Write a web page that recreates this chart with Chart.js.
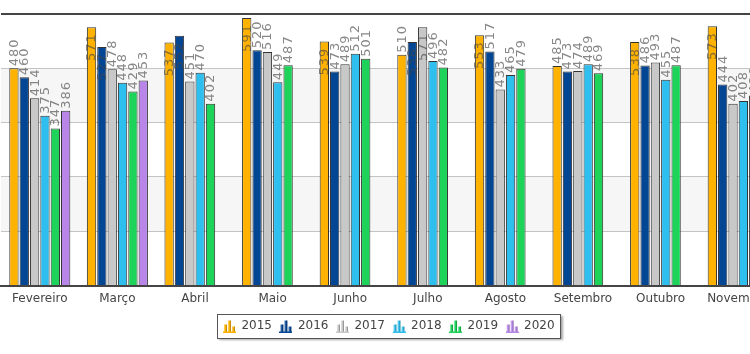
<!DOCTYPE html>
<html>
<head>
<meta charset="utf-8">
<script src="https://cdn.jsdelivr.net/npm/chart.js@4.4.1/dist/chart.umd.min.js"></script>
<style>
  html, body { margin: 0; padding: 0; background: #fff; overflow: hidden; }
  #wrap { width: 777px; height: 354px; }
</style>
</head>
<body>
<div id="wrap"><canvas id="barChart" width="777" height="354"></canvas></div>
<script>
// meses visiveis no grafico
var meses = ['Fevereiro', 'Março', 'Abril', 'Maio', 'Junho', 'Julho', 'Agosto', 'Setembro', 'Outubro', 'Novembro'];
var anos = ['2015', '2016', '2017', '2018', '2019', '2020'];

var v2015 = [480, 571, 537, 591, 539, 510, 553, 485, 538, 573];
var v2016 = [460, 527, 552, 520, 473, 538, 517, 473, 486, 444];
var v2017 = [414, 478, 451, 516, 489, 571, 433, 474, 493, 402];
var v2018 = [375, 448, 470, 449, 512, 496, 465, 489, 455, 408];
var v2019 = [347, 429, 402, 487, 501, 482, 479, 469, 487, 420];
var v2020 = [386, 453, null, null, null, null, null, null, null, null];

var yMax = 600;
var yStep = 120;

var cores = ['#FFB300', '#034694', '#C8C8C8', '#2EBFEF', '#1ED35A', '#B886E8'];
var valores = [v2015, v2016, v2017, v2018, v2019, v2020];

// pequeno icone de grafico de barras para a legenda
function icone(cor) {
    var c = document.createElement('canvas');
    c.width = 13; c.height = 13;
    var g = c.getContext('2d');
    var barras = [[1, 5], [5, 1], [9, 7]];
    barras.forEach(function (b) {
        g.fillStyle = cor;
        g.fillRect(b[0], b[1], 3, 12 - b[1]);
        g.fillStyle = 'rgba(0,0,0,0.25)';
        g.fillRect(b[0] + 2, b[1], 1, 12 - b[1]);
        g.fillStyle = 'rgba(255,255,255,0.35)';
        g.fillRect(b[0], b[1], 1, 12 - b[1]);
    });
    g.fillStyle = cor;
    g.fillRect(0, 12, 13, 1);
    return c;
}
var icones = cores.map(icone);

var faixas = {
    id: 'faixas',
    beforeDraw: function (chart) {
        var ctx = chart.ctx, a = chart.chartArea, y = chart.scales.y;
        ctx.save();
        ctx.fillStyle = '#f6f6f6';
        [[360, 480], [120, 240]].forEach(function (f) {
            var t = y.getPixelForValue(f[1]), b = y.getPixelForValue(f[0]);
            ctx.fillRect(a.left, t, a.right - a.left, b - t);
        });
        // caixa da legenda
        var hb = chart.legend.legendHitBoxes;
        if (hb && hb.length) {
            var x0 = hb[0].left - 6, last = hb[hb.length - 1];
            var x1 = last.left + last.width + 6;
            var y0 = hb[0].top - 6, y1 = hb[0].top + hb[0].height + 6;
            ctx.shadowColor = 'rgba(0,0,0,0.35)';
            ctx.shadowOffsetX = 2;
            ctx.shadowOffsetY = 2;
            ctx.shadowBlur = 2;
            ctx.fillStyle = '#fff';
            ctx.fillRect(x0, y0, x1 - x0, y1 - y0);
            ctx.shadowColor = 'transparent';
            ctx.strokeStyle = '#555';
            ctx.lineWidth = 1;
            ctx.strokeRect(Math.round(x0) + 0.5, Math.round(y0) + 0.5, Math.round(x1 - x0), Math.round(y1 - y0));
        }
        ctx.restore();
    }
};

var rotulos = {
    id: 'rotulos',
    afterDatasetsDraw: function (chart) {
        var ctx = chart.ctx, a = chart.chartArea;
        ctx.save();
        ctx.font = '13px "DejaVu Sans"';
        ctx.letterSpacing = '1px';
        ctx.fillStyle = 'rgba(70,70,70,0.65)';
        ctx.textBaseline = 'middle';
        chart.data.datasets.forEach(function (ds, i) {
            var meta = chart.getDatasetMeta(i);
            meta.data.forEach(function (bar, j) {
                var v = ds.data[j];
                if (v === null || v === undefined) return;
                var txt = String(v);
                var w = ctx.measureText(txt).width;
                ctx.save();
                ctx.translate(bar.x + 0.5, bar.y);
                ctx.rotate(-Math.PI / 2);
                if (bar.y - 2 - w < a.top + 5) {
                    ctx.textAlign = 'right';
                    ctx.fillText(txt, -6, 0);
                } else {
                    ctx.textAlign = 'left';
                    ctx.fillText(txt, 2, 0);
                }
                ctx.restore();
            });
        });
        ctx.restore();
    }
};

var data = {
    labels: meses,
    datasets: anos.map(function (ano, i) {
        return {
            label: ano,
            data: valores[i],
            backgroundColor: cores[i],
            borderColor: '#333',
            borderWidth: 1,
            categoryPercentage: 0.8,
            barPercentage: 0.9
        };
    })
};

var barChart = new Chart(document.getElementById('barChart'), {
    type: 'bar',
    data: data,
    plugins: [faixas, rotulos],
    options: {
        responsive: false,
        animation: false,
        layout: { padding: { left: 1, right: 0, top: 14, bottom: 12 } },
        scales: {
            x: {
                grid: { display: false, drawTicks: false },
                border: { color: '#444', width: 2 },
                ticks: { color: '#444', font: { family: 'DejaVu Sans', size: 12 }, padding: 6 }
            },
            y: {
                min: 0,
                max: yMax,
                ticks: { display: false, stepSize: yStep },
                border: { display: false },
                grid: {
                    drawTicks: false,
                    color: function (c) {
                        if (c.tick.value === yMax) return '#444';
                        if (c.tick.value === 0) return 'transparent';
                        return '#c4c4c4';
                    },
                    lineWidth: function (c) { return c.tick.value === yMax ? 2 : 1; }
                }
            }
        },
        plugins: {
            tooltip: { enabled: false },
            legend: {
                position: 'bottom',
                labels: {
                    usePointStyle: true,
                    color: '#444',
                    font: { family: 'DejaVu Sans', size: 12 },
                    padding: 8,
                    generateLabels: function (chart) {
                        var items = Chart.defaults.plugins.legend.labels.generateLabels(chart);
                        items.forEach(function (it, i) { it.pointStyle = icones[i]; it.lineWidth = 0; });
                        return items;
                    }
                }
            }
        }
    }
});
</script>
</body>
</html>
